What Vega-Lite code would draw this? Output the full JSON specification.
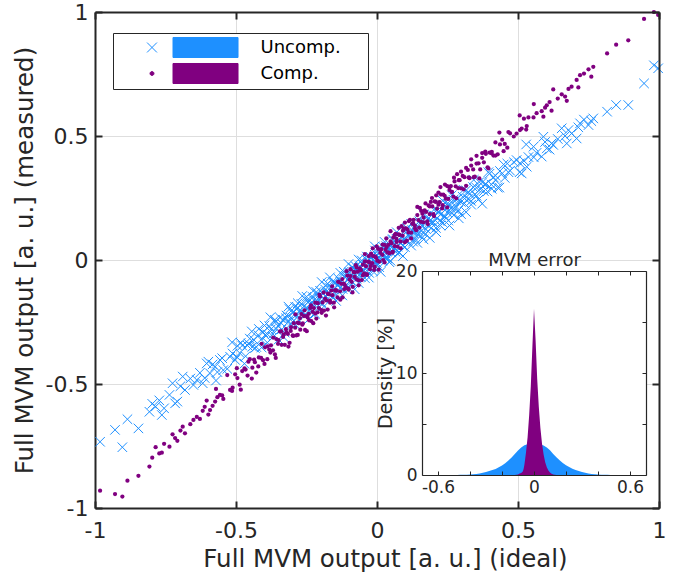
{
  "$schema": "https://vega.github.io/schema/vega-lite/v6.json",
  "width": 564,
  "height": 496,
  "autosize": {"type": "none"},
  "padding": {"left": 95, "top": 12, "right": 23, "bottom": 74},
  "datasets": {"panel": [{"panel": "MVM error"}]},
  "config": {
    "view": {"stroke": null},
    "font": "DejaVu Sans",
    "axis": {
      "labelFont": "DejaVu Sans",
      "titleFont": "DejaVu Sans",
      "labelColor": "#262626",
      "titleColor": "#262626",
      "titleFontWeight": "normal",
      "domainColor": "#262626",
      "tickColor": "#262626"
    },
    "legend": {
      "orient": "none", "legendX": 18, "legendY": 21,
      "padding": 3, "strokeColor": "#262626", "fillColor": "white",
      "symbolSize": 484, "symbolOffset": 24.5, "labelOffset": 97, "symbolOpacity": 1, "symbolStrokeWidth": 1,
      "labelFontSize": 18, "labelFont": "DejaVu Sans", "labelColor": "black", "rowPadding": 1
    }
  },
  "layer": [
    {
      "data": {"values": [
        {"x":-0.982,"u":-0.733,"c":-0.930},{"x":-0.929,"u":-0.685,"c":-0.944},{"x":-0.903,"u":-0.755,"c":-0.954},{"x":-0.885,"u":-0.642,"c":-0.890},{"x":-0.846,"u":-0.679,"c":-0.870},{"x":-0.807,"u":-0.612,"c":-0.833},{"x":-0.797,"u":-0.580,"c":-0.797},{"x":-0.785,"u":-0.591,"c":-0.755},{"x":-0.763,"u":-0.625,"c":-0.777},{"x":-0.736,"u":-0.544,"c":-0.753},{"x":-0.725,"u":-0.497,"c":-0.703},{"x":-0.708,"u":-0.571,"c":-0.729},{"x":-0.689,"u":-0.470,"c":-0.672},{"x":-0.681,"u":-0.524,"c":-0.699},{"x":-0.651,"u":-0.504,"c":-0.645},{"x":-0.639,"u":-0.484,"c":-0.633},{"x":-0.618,"u":-0.497,"c":-0.608},{"x":-0.604,"u":-0.417,"c":-0.567},{"x":-0.592,"u":-0.457,"c":-0.605},{"x":-0.574,"u":-0.430,"c":-0.571},{"x":-0.557,"u":-0.403,"c":-0.544},{"x":-0.545,"u":-0.444,"c":-0.560},{"x":-0.521,"u":-0.390,"c":-0.524},
        {"x":-0.772,"u":-0.566,"c":-0.780},{"x":-0.755,"u":-0.598,"c":-0.741},{"x":-0.716,"u":-0.578,"c":-0.718},{"x":-0.697,"u":-0.509,"c":-0.688},{"x":-0.662,"u":-0.478,"c":-0.662},{"x":-0.628,"u":-0.455,"c":-0.641},{"x":-0.611,"u":-0.476,"c":-0.592},{"x":-0.583,"u":-0.421,"c":-0.588},{"x":-0.566,"u":-0.452,"c":-0.553},
        {"x":-0.512,"u":-0.377,"c":-0.515},{"x":-0.503,"u":-0.403,"c":-0.461},{"x":-0.495,"u":-0.346,"c":-0.476},{"x":-0.487,"u":-0.375,"c":-0.503},{"x":-0.478,"u":-0.345,"c":-0.448},{"x":-0.466,"u":-0.388,"c":-0.442},{"x":-0.459,"u":-0.345,"c":-0.466},{"x":-0.451,"u":-0.317,"c":-0.400},{"x":-0.442,"u":-0.350,"c":-0.434},{"x":-0.436,"u":-0.323,"c":-0.402},{"x":-0.428,"u":-0.351,"c":-0.454},{"x":-0.419,"u":-0.278,"c":-0.393},{"x":-0.411,"u":-0.321,"c":-0.395},{"x":-0.404,"u":-0.291,"c":-0.404},{"x":-0.397,"u":-0.303,"c":-0.352},{"x":-0.389,"u":-0.333,"c":-0.400},{"x":-0.382,"u":-0.267,"c":-0.361},{"x":-0.376,"u":-0.279,"c":-0.344},{"x":-0.369,"u":-0.298,"c":-0.364},{"x":-0.362,"u":-0.241,"c":-0.381},{"x":-0.357,"u":-0.278,"c":-0.319},{"x":-0.351,"u":-0.265,"c":-0.338},{"x":-0.344,"u":-0.232,"c":-0.288},{"x":-0.338,"u":-0.280,"c":-0.342},{"x":-0.333,"u":-0.241,"c":-0.310},{"x":-0.327,"u":-0.293,"c":-0.342},{"x":-0.321,"u":-0.224,"c":-0.292},{"x":-0.316,"u":-0.251,"c":-0.298},{"x":-0.310,"u":-0.198,"c":-0.334},{"x":-0.305,"u":-0.233,"c":-0.271},
        {"x":-0.299,"u":-0.214,"c":-0.304},{"x":-0.295,"u":-0.244,"c":-0.255},{"x":-0.290,"u":-0.189,"c":-0.273},{"x":-0.286,"u":-0.221,"c":-0.304},{"x":-0.281,"u":-0.194,"c":-0.253},{"x":-0.277,"u":-0.243,"c":-0.255},{"x":-0.272,"u":-0.202,"c":-0.281},{"x":-0.268,"u":-0.177,"c":-0.218},{"x":-0.263,"u":-0.213,"c":-0.256},{"x":-0.259,"u":-0.187,"c":-0.226},{"x":-0.255,"u":-0.219,"c":-0.282},{"x":-0.250,"u":-0.148,"c":-0.226},{"x":-0.246,"u":-0.195,"c":-0.232},{"x":-0.241,"u":-0.166,"c":-0.243},{"x":-0.237,"u":-0.180,"c":-0.194},{"x":-0.233,"u":-0.213,"c":-0.246},{"x":-0.228,"u":-0.149,"c":-0.209},{"x":-0.224,"u":-0.162,"c":-0.194},{"x":-0.219,"u":-0.184,"c":-0.216},{"x":-0.215,"u":-0.129,"c":-0.236},{"x":-0.210,"u":-0.166,"c":-0.174},{"x":-0.206,"u":-0.154,"c":-0.194},{"x":-0.202,"u":-0.124,"c":-0.147},{"x":-0.197,"u":-0.172,"c":-0.202},{"x":-0.193,"u":-0.134,"c":-0.171},{"x":-0.188,"u":-0.187,"c":-0.204},{"x":-0.184,"u":-0.119,"c":-0.156},{"x":-0.180,"u":-0.147,"c":-0.163},{"x":-0.175,"u":-0.095,"c":-0.200},{"x":-0.171,"u":-0.131,"c":-0.138},{"x":-0.166,"u":-0.112,"c":-0.172},{"x":-0.162,"u":-0.142,"c":-0.123},{"x":-0.158,"u":-0.088,"c":-0.142},{"x":-0.153,"u":-0.119,"c":-0.172},{"x":-0.149,"u":-0.093,"c":-0.122},{"x":-0.144,"u":-0.141,"c":-0.124},{"x":-0.140,"u":-0.101,"c":-0.151},{"x":-0.136,"u":-0.076,"c":-0.088},{"x":-0.131,"u":-0.112,"c":-0.126},{"x":-0.127,"u":-0.086,"c":-0.096},{"x":-0.122,"u":-0.117,"c":-0.151},{"x":-0.118,"u":-0.047,"c":-0.095},{"x":-0.114,"u":-0.094,"c":-0.101},{"x":-0.109,"u":-0.065,"c":-0.112},{"x":-0.105,"u":-0.079,"c":-0.063},
        {"x":-0.101,"u":-0.112,"c":-0.115},{"x":-0.097,"u":-0.049,"c":-0.079},{"x":-0.094,"u":-0.063,"c":-0.065},{"x":-0.090,"u":-0.085,"c":-0.088},{"x":-0.086,"u":-0.030,"c":-0.108},{"x":-0.083,"u":-0.069,"c":-0.048},{"x":-0.079,"u":-0.056,"c":-0.068},{"x":-0.075,"u":-0.026,"c":-0.021},{"x":-0.072,"u":-0.076,"c":-0.078},{"x":-0.068,"u":-0.038,"c":-0.047},{"x":-0.065,"u":-0.093,"c":-0.082},{"x":-0.061,"u":-0.025,"c":-0.034},{"x":-0.057,"u":-0.053,"c":-0.041},{"x":-0.054,"u":-0.002,"c":-0.081},{"x":-0.050,"u":-0.038,"c":-0.019},{"x":-0.046,"u":-0.020,"c":-0.054},{"x":-0.043,"u":-0.051,"c":-0.006},{"x":-0.039,"u":0.003,"c":-0.025},{"x":-0.036,"u":-0.030,"c":-0.057},{"x":-0.032,"u":-0.004,"c":-0.007},{"x":-0.028,"u":-0.052,"c":-0.009},{"x":-0.025,"u":-0.013,"c":-0.037},{"x":-0.021,"u":0.012,"c":0.026},{"x":-0.017,"u":-0.025,"c":-0.013},{"x":-0.014,"u":0.000,"c":0.016},{"x":-0.010,"u":-0.032,"c":-0.040},{"x":-0.007,"u":0.038,"c":0.015},{"x":-0.003,"u":-0.009,"c":0.009},{"x":0.001,"u":0.019,"c":-0.003},{"x":0.004,"u":0.004,"c":0.045},{"x":0.008,"u":-0.029,"c":-0.007},{"x":0.012,"u":0.034,"c":0.029},{"x":0.015,"u":0.021,"c":0.044},{"x":0.019,"u":-0.002,"c":0.021},{"x":0.022,"u":0.053,"c":0.000},{"x":0.026,"u":0.015,"c":0.061},{"x":0.030,"u":0.027,"c":0.041},{"x":0.033,"u":0.056,"c":0.087},{"x":0.037,"u":0.007,"c":0.031},{"x":0.040,"u":0.045,"c":0.061},{"x":0.044,"u":-0.009,"c":0.027},{"x":0.048,"u":0.059,"c":0.075},{"x":0.051,"u":0.030,"c":0.068},{"x":0.055,"u":0.081,"c":0.030},{"x":0.058,"u":0.044,"c":0.091},{"x":0.062,"u":0.062,"c":0.056},{"x":0.066,"u":0.033,"c":0.105},{"x":0.069,"u":0.086,"c":0.085},{"x":0.073,"u":0.054,"c":0.054},{"x":0.076,"u":0.079,"c":0.103},{"x":0.080,"u":0.030,"c":0.101},{"x":0.084,"u":0.070,"c":0.075},{"x":0.087,"u":0.095,"c":0.137},{"x":0.091,"u":0.058,"c":0.098},{"x":0.095,"u":0.084,"c":0.128},
        {"x":0.099,"u":0.052,"c":0.072},{"x":0.103,"u":0.122,"c":0.128},{"x":0.108,"u":0.076,"c":0.123},{"x":0.112,"u":0.104,"c":0.111},{"x":0.117,"u":0.091,"c":0.162},{"x":0.121,"u":0.058,"c":0.110},{"x":0.125,"u":0.121,"c":0.146},{"x":0.130,"u":0.109,"c":0.162},{"x":0.134,"u":0.087,"c":0.139},{"x":0.139,"u":0.142,"c":0.120},{"x":0.143,"u":0.104,"c":0.181},{"x":0.147,"u":0.117,"c":0.161},{"x":0.152,"u":0.147,"c":0.210},{"x":0.156,"u":0.098,"c":0.154},{"x":0.161,"u":0.137,"c":0.186},{"x":0.165,"u":0.083,"c":0.152},{"x":0.169,"u":0.151,"c":0.200},{"x":0.174,"u":0.124,"c":0.194},{"x":0.178,"u":0.175,"c":0.156},{"x":0.183,"u":0.140,"c":0.220},{"x":0.187,"u":0.158,"c":0.185},{"x":0.191,"u":0.128,"c":0.234},{"x":0.196,"u":0.183,"c":0.216},{"x":0.200,"u":0.151,"c":0.185},{"x":0.205,"u":0.178,"c":0.236},{"x":0.209,"u":0.129,"c":0.234},{"x":0.213,"u":0.169,"c":0.207},{"x":0.218,"u":0.195,"c":0.272},{"x":0.222,"u":0.158,"c":0.233},{"x":0.227,"u":0.185,"c":0.264},{"x":0.231,"u":0.153,"c":0.208},{"x":0.235,"u":0.223,"c":0.264},{"x":0.240,"u":0.177,"c":0.259},{"x":0.244,"u":0.205,"c":0.247},{"x":0.249,"u":0.192,"c":0.298},{"x":0.253,"u":0.159,"c":0.246},{"x":0.257,"u":0.222,"c":0.282},{"x":0.262,"u":0.209,"c":0.298},{"x":0.266,"u":0.188,"c":0.275},{"x":0.271,"u":0.243,"c":0.256},{"x":0.275,"u":0.205,"c":0.317},{"x":0.279,"u":0.217,"c":0.297},{"x":0.284,"u":0.248,"c":0.346},{"x":0.288,"u":0.199,"c":0.290},{"x":0.293,"u":0.238,"c":0.322},
        {"x":0.298,"u":0.185,"c":0.289},{"x":0.304,"u":0.255,"c":0.339},{"x":0.310,"u":0.228,"c":0.334},{"x":0.316,"u":0.281,"c":0.299},{"x":0.322,"u":0.246,"c":0.363},{"x":0.328,"u":0.266,"c":0.330},{"x":0.334,"u":0.238,"c":0.381},{"x":0.341,"u":0.294,"c":0.365},{"x":0.347,"u":0.264,"c":0.336},{"x":0.353,"u":0.291,"c":0.389},{"x":0.360,"u":0.244,"c":0.390},{"x":0.366,"u":0.286,"c":0.365},{"x":0.373,"u":0.313,"c":0.431},{"x":0.379,"u":0.278,"c":0.394},{"x":0.386,"u":0.306,"c":0.428},{"x":0.392,"u":0.276,"c":0.374},{"x":0.399,"u":0.348,"c":0.433},{"x":0.406,"u":0.304,"c":0.430},{"x":0.413,"u":0.334,"c":0.421},{"x":0.420,"u":0.322,"c":0.474},{"x":0.428,"u":0.292,"c":0.426},{"x":0.436,"u":0.359,"c":0.466},{"x":0.444,"u":0.349,"c":0.485},{"x":0.453,"u":0.331,"c":0.468},{"x":0.462,"u":0.389,"c":0.453},
        {"x":-0.598,"u":-0.410,"c":-0.623},{"x":-0.571,"u":-0.486,"c":-0.520},{"x":-0.549,"u":-0.396,"c":-0.546},{"x":-0.531,"u":-0.439,"c":-0.464},{"x":-0.514,"u":-0.332,"c":-0.528},{"x":-0.497,"u":-0.391,"c":-0.436},{"x":-0.483,"u":-0.334,"c":-0.523},{"x":-0.470,"u":-0.418,"c":-0.437},{"x":-0.456,"u":-0.337,"c":-0.410},{"x":-0.444,"u":-0.288,"c":-0.478},{"x":-0.433,"u":-0.355,"c":-0.412},{"x":-0.421,"u":-0.303,"c":-0.429},{"x":-0.409,"u":-0.353,"c":-0.338},{"x":-0.399,"u":-0.264,"c":-0.419},{"x":-0.388,"u":-0.300,"c":-0.348},{"x":-0.378,"u":-0.231,"c":-0.373},{"x":-0.368,"u":-0.310,"c":-0.313},{"x":-0.359,"u":-0.248,"c":-0.395},{"x":-0.349,"u":-0.321,"c":-0.323},{"x":-0.340,"u":-0.254,"c":-0.288},
        {"x":-0.331,"u":-0.311,"c":-0.300},{"x":-0.323,"u":-0.235,"c":-0.279},{"x":-0.314,"u":-0.188,"c":-0.349},{"x":-0.306,"u":-0.258,"c":-0.286},{"x":-0.297,"u":-0.208,"c":-0.306},{"x":-0.289,"u":-0.261,"c":-0.219},{"x":-0.281,"u":-0.174,"c":-0.302},{"x":-0.273,"u":-0.212,"c":-0.234},{"x":-0.265,"u":-0.145,"c":-0.261},{"x":-0.257,"u":-0.225,"c":-0.203},{"x":-0.249,"u":-0.164,"c":-0.287},{"x":-0.242,"u":-0.239,"c":-0.217},{"x":-0.234,"u":-0.173,"c":-0.183},{"x":-0.226,"u":-0.125,"c":-0.255},{"x":-0.219,"u":-0.217,"c":-0.172},{"x":-0.211,"u":-0.137,"c":-0.211},{"x":-0.204,"u":-0.189,"c":-0.140},{"x":-0.196,"u":-0.089,"c":-0.213},{"x":-0.189,"u":-0.156,"c":-0.131},{"x":-0.181,"u":-0.103,"c":-0.224},
        {"x":-0.174,"u":-0.136,"c":-0.136},{"x":-0.167,"u":-0.070,"c":-0.164},{"x":-0.159,"u":-0.150,"c":-0.106},{"x":-0.152,"u":-0.089,"c":-0.191},{"x":-0.145,"u":-0.165,"c":-0.121},{"x":-0.138,"u":-0.100,"c":-0.088},{"x":-0.130,"u":-0.052,"c":-0.160},{"x":-0.123,"u":-0.143,"c":-0.077},{"x":-0.116,"u":-0.065,"c":-0.117},{"x":-0.108,"u":-0.116,"c":-0.045},{"x":-0.101,"u":-0.016,"c":-0.119},{"x":-0.094,"u":-0.083,"c":-0.037},{"x":-0.087,"u":-0.031,"c":-0.131},{"x":-0.079,"u":-0.118,"c":-0.050},{"x":-0.072,"u":-0.043,"c":-0.030},{"x":-0.065,"u":0.002,"c":-0.102},{"x":-0.058,"u":-0.068,"c":-0.040},{"x":-0.050,"u":-0.019,"c":-0.062},{"x":-0.043,"u":-0.073,"c":0.024},{"x":-0.036,"u":0.014,"c":-0.060},
        {"x":-0.029,"u":-0.071,"c":0.016},{"x":-0.022,"u":0.007,"c":-0.024},{"x":-0.015,"u":-0.045,"c":0.047},{"x":-0.008,"u":0.055,"c":-0.027},{"x":-0.001,"u":-0.012,"c":0.055},{"x":0.006,"u":0.041,"c":-0.039},{"x":0.013,"u":-0.048,"c":0.041},{"x":0.020,"u":0.027,"c":0.062},{"x":0.027,"u":0.073,"c":-0.010},{"x":0.034,"u":0.002,"c":0.052},{"x":0.041,"u":0.050,"c":0.030},{"x":0.048,"u":-0.003,"c":0.116},{"x":0.056,"u":0.084,"c":0.034},{"x":0.063,"u":0.045,"c":0.101},{"x":0.070,"u":0.112,"c":0.073},{"x":0.077,"u":0.031,"c":0.130},{"x":0.084,"u":0.091,"c":0.047},{"x":0.092,"u":0.016,"c":0.118},{"x":0.099,"u":0.082,"c":0.151},{"x":0.106,"u":0.129,"c":0.078},
        {"x":0.113,"u":0.098,"c":0.157},{"x":0.121,"u":0.145,"c":0.087},{"x":0.128,"u":0.074,"c":0.149},{"x":0.135,"u":0.122,"c":0.127},{"x":0.143,"u":0.069,"c":0.214},{"x":0.150,"u":0.156,"c":0.131},{"x":0.157,"u":0.117,"c":0.198},{"x":0.165,"u":0.184,"c":0.171},{"x":0.172,"u":0.104,"c":0.228},{"x":0.180,"u":0.165,"c":0.145},{"x":0.187,"u":0.089,"c":0.216},{"x":0.195,"u":0.155,"c":0.250},{"x":0.202,"u":0.203,"c":0.177},{"x":0.210,"u":0.112,"c":0.261},{"x":0.218,"u":0.191,"c":0.223},{"x":0.225,"u":0.139,"c":0.294},{"x":0.233,"u":0.239,"c":0.221},{"x":0.241,"u":0.173,"c":0.304},{"x":0.249,"u":0.227,"c":0.212},{"x":0.257,"u":0.139,"c":0.293},
        {"x":0.265,"u":0.261,"c":0.274},{"x":0.273,"u":0.181,"c":0.332},{"x":0.281,"u":0.242,"c":0.249},{"x":0.290,"u":0.168,"c":0.322},{"x":0.298,"u":0.234,"c":0.356},{"x":0.307,"u":0.283,"c":0.285},{"x":0.316,"u":0.193,"c":0.371},{"x":0.325,"u":0.273,"c":0.333},{"x":0.334,"u":0.223,"c":0.406},{"x":0.343,"u":0.323,"c":0.334},{"x":0.353,"u":0.259,"c":0.420},{"x":0.363,"u":0.314,"c":0.329},{"x":0.373,"u":0.227,"c":0.412},{"x":0.384,"u":0.306,"c":0.437},{"x":0.395,"u":0.354,"c":0.369},{"x":0.407,"u":0.287,"c":0.436},{"x":0.420,"u":0.340,"c":0.421},{"x":0.434,"u":0.292,"c":0.514},{"x":0.449,"u":0.385,"c":0.439},{"x":0.466,"u":0.354,"c":0.516},
        {"x":0.485,"u":0.395,"c":0.498},{"x":0.506,"u":0.354,"c":0.583},{"x":0.529,"u":0.466,"c":0.526},{"x":0.556,"u":0.414,"c":0.629},
        {"x":0.566,"u":0.432,"c":0.592},{"x":0.596,"u":0.476,"c":0.614},{"x":0.612,"u":0.445,"c":0.637},{"x":0.641,"u":0.488,"c":0.651},{"x":0.734,"u":0.566,"c":0.752},{"x":0.816,"u":0.598,"c":0.833},
        {"x":0.472,"u":0.360,"c":0.511},{"x":0.495,"u":0.403,"c":0.510},{"x":0.507,"u":0.390,"c":0.524},{"x":0.513,"u":0.349,"c":0.530},{"x":0.521,"u":0.400,"c":0.570},{"x":0.531,"u":0.376,"c":0.540},{"x":0.537,"u":0.415,"c":0.575},{"x":0.555,"u":0.457,"c":0.575},{"x":0.584,"u":0.417,"c":0.600},{"x":0.590,"u":0.497,"c":0.578},{"x":0.602,"u":0.450,"c":0.624},{"x":0.619,"u":0.470,"c":0.602},{"x":0.625,"u":0.464,"c":0.688},{"x":0.655,"u":0.531,"c":0.668},{"x":0.667,"u":0.500,"c":0.659},{"x":0.673,"u":0.470,"c":0.642},{"x":0.679,"u":0.524,"c":0.690},{"x":0.690,"u":0.510,"c":0.699},{"x":0.708,"u":0.490,"c":0.726},{"x":0.714,"u":0.535,"c":0.696},{"x":0.720,"u":0.551,"c":0.745},{"x":0.750,"u":0.544,"c":0.769},{"x":0.760,"u":0.560,"c":0.739},{"x":0.767,"u":0.571,"c":0.779},{"x":0.848,"u":0.625,"c":0.868},{"x":0.891,"u":0.625,"c":0.886},{"x":0.947,"u":0.712,"c":0.972},{"x":0.982,"u":0.785,"c":1.000},{"x":0.997,"u":0.773,"c":0.988}
      ]},
      "layer": [
        {
          "mark": {"type": "point", "shape": "M-1,-1L1,1M-1,1L1,-1", "filled": false, "size": 90, "strokeWidth": 1, "opacity": 1},
          "encoding": {
            "x": {"field": "x", "type": "quantitative",
              "scale": {"domain": [-1, 1], "nice": false, "zero": false},
              "axis": {"orient": "bottom", "values": [-1, -0.5, 0, 0.5, 1], "labelExpr": "'' + datum.value", "labelFontSize": 22, "labelFlush": false, "labelPadding": 19, "tickSize": -7, "tickWidth": 2, "domainWidth": 2, "grid": true, "gridColor": "#dedede", "gridWidth": 1, "title": "Full MVM output [a. u.] (ideal)", "titleFontSize": 24.5, "titlePadding": 6, "titleX": 290, "zindex": 0}},
            "y": {"field": "u", "type": "quantitative",
              "scale": {"domain": [-1, 1], "nice": false, "zero": false},
              "axis": {"orient": "left", "values": [-1, -0.5, 0, 0.5, 1], "labelExpr": "'' + datum.value", "labelFontSize": 22, "labelPadding": 14, "tickSize": -7, "tickWidth": 2, "domainWidth": 2, "grid": true, "gridColor": "#dedede", "gridWidth": 1, "title": "Full MVM output [a. u.] (measured)", "titleFontSize": 24.5, "titlePadding": 8, "zindex": 0}},
            "color": {"datum": "Uncomp.", "type": "nominal",
              "scale": {"domain": ["Uncomp.", "Comp."], "range": ["#1E90FF", "#800080"]},
              "legend": {"title": null}}
          }
        },
        {
          "mark": {"type": "circle", "size": 18, "opacity": 1},
          "encoding": {
            "x": {"field": "x", "type": "quantitative",
              "axis": {"orient": "top", "values": [-1, -0.5, 0, 0.5, 1], "labels": false, "tickSize": -7, "tickWidth": 2, "domainWidth": 2, "grid": false, "title": null, "zindex": 1}},
            "y": {"field": "c", "type": "quantitative",
              "axis": {"orient": "right", "values": [-1, -0.5, 0, 0.5, 1], "labels": false, "tickSize": -7, "tickWidth": 2, "domainWidth": 2, "grid": false, "title": null, "zindex": 1}},
            "color": {"datum": "Comp.", "type": "nominal"}
          }
        }
      ],
      "resolve": {"axis": {"x": "independent", "y": "independent"}}
    },
    {
      "layer": [
        {
          "data": {"name": "panel"},
          "mark": {"type": "rect", "fill": "white", "stroke": null},
          "encoding": {
            "x": {"datum": -0.7, "type": "quantitative",
              "scale": {"domain": [-0.7, 0.7], "range": [327, 551], "nice": false, "zero": false},
              "axis": {"orient": "bottom", "offset": -33, "values": [-0.6, -0.4, -0.2, 0, 0.2, 0.4, 0.6], "labelExpr": "abs(datum.value) < 0.01 || abs(datum.value) > 0.5 ? '' + datum.value : ''", "labelFontSize": 17, "labelFlush": false, "labelOverlap": false, "labelPadding": 8, "tickSize": -4, "tickWidth": 1, "domainWidth": 1.2, "grid": false, "title": null, "zindex": 2}},
            "x2": {"datum": 0.7},
            "y": {"datum": 0, "type": "quantitative",
              "scale": {"domain": [0, 20], "range": [463, 259], "nice": false, "zero": false},
              "axis": {"orient": "left", "offset": -327, "values": [0, 5, 10, 15, 20], "labelExpr": "datum.value % 10 == 0 ? '' + datum.value : ''", "labelFontSize": 17, "labelOverlap": false, "labelPadding": 9, "tickSize": -4, "tickWidth": 1, "domainWidth": 1.2, "grid": false, "title": "Density [%]", "titleFontSize": 19, "titlePadding": 0, "zindex": 2}},
            "y2": {"datum": 20}
          }
        },
        {
          "data": {"values": [
            {"e":-0.50,"d":0.0},{"e":-0.48,"d":0.01},{"e":-0.46,"d":0.02},{"e":-0.44,"d":0.025},{"e":-0.42,"d":0.035},{"e":-0.40,"d":0.05},{"e":-0.38,"d":0.07},{"e":-0.36,"d":0.10},{"e":-0.34,"d":0.15},{"e":-0.32,"d":0.22},{"e":-0.30,"d":0.30},{"e":-0.28,"d":0.38},{"e":-0.26,"d":0.48},{"e":-0.24,"d":0.60},{"e":-0.22,"d":0.76},{"e":-0.20,"d":0.93},{"e":-0.18,"d":1.15},{"e":-0.16,"d":1.43},{"e":-0.14,"d":1.72},{"e":-0.12,"d":2.05},{"e":-0.10,"d":2.40},{"e":-0.08,"d":2.70},{"e":-0.06,"d":2.92},{"e":-0.04,"d":3.02},{"e":-0.02,"d":3.06},{"e":0.0,"d":3.08},{"e":0.02,"d":3.05},{"e":0.04,"d":3.0},{"e":0.06,"d":2.9},{"e":0.08,"d":2.7},{"e":0.10,"d":2.42},{"e":0.12,"d":2.07},{"e":0.14,"d":1.74},{"e":0.16,"d":1.45},{"e":0.18,"d":1.17},{"e":0.20,"d":0.95},{"e":0.22,"d":0.78},{"e":0.24,"d":0.61},{"e":0.26,"d":0.49},{"e":0.28,"d":0.39},{"e":0.30,"d":0.30},{"e":0.32,"d":0.22},{"e":0.34,"d":0.15},{"e":0.36,"d":0.10},{"e":0.38,"d":0.07},{"e":0.40,"d":0.05},{"e":0.42,"d":0.035},{"e":0.44,"d":0.025},{"e":0.46,"d":0.02},{"e":0.48,"d":0.01},{"e":0.50,"d":0.0}
          ]},
          "mark": {"type": "area", "opacity": 1, "interpolate": "linear"},
          "encoding": {
            "x": {"field": "e", "type": "quantitative",
              "axis": {"orient": "top", "offset": -259, "values": [-0.6, -0.4, -0.2, 0, 0.2, 0.4, 0.6], "labels": false, "tickSize": -4, "tickWidth": 1, "domainWidth": 1.2, "grid": false, "title": "MVM error", "titleFontSize": 18, "titlePadding": 1, "zindex": 2}},
            "y": {"field": "d", "type": "quantitative",
              "axis": {"orient": "right", "offset": -13, "values": [0, 5, 10, 15, 20], "labels": false, "tickSize": -4, "tickWidth": 1, "domainWidth": 1.2, "grid": false, "title": null, "zindex": 2}},
            "color": {"datum": "Uncomp.", "type": "nominal"}
          }
        },
        {
          "data": {"values": [
            {"e":-0.12,"d":0.0},{"e":-0.10,"d":0.05},{"e":-0.09,"d":0.15},{"e":-0.08,"d":0.2},{"e":-0.07,"d":0.35},{"e":-0.065,"d":0.6},{"e":-0.06,"d":1.0},{"e":-0.05,"d":2.2},{"e":-0.04,"d":3.7},{"e":-0.03,"d":5.9},{"e":-0.02,"d":8.7},{"e":-0.01,"d":12.6},{"e":0.0,"d":16.3},{"e":0.01,"d":13.2},{"e":0.02,"d":9.4},{"e":0.03,"d":6.7},{"e":0.04,"d":4.6},{"e":0.05,"d":3.1},{"e":0.06,"d":2.0},{"e":0.07,"d":1.25},{"e":0.08,"d":0.75},{"e":0.09,"d":0.45},{"e":0.10,"d":0.25},{"e":0.11,"d":0.12},{"e":0.12,"d":0.05},{"e":0.14,"d":0.0}
          ]},
          "mark": {"type": "area", "opacity": 1, "interpolate": "linear"},
          "encoding": {
            "x": {"field": "e", "type": "quantitative", "axis": null},
            "y": {"field": "d", "type": "quantitative", "axis": null},
            "color": {"datum": "Comp.", "type": "nominal"}
          }
        },
        {
          "data": {"name": "panel"},
          "mark": {"type": "point", "opacity": 0},
          "encoding": {
            "x": {"datum": 0, "type": "quantitative", "axis": null},
            "y": {"datum": 10, "type": "quantitative", "axis": null},
            "shape": {"datum": "Uncomp.", "type": "nominal",
              "scale": {"domain": ["Uncomp.", "Comp."], "range": [
                "M-0.45,-0.45L0.45,0.45M-0.45,0.45L0.45,-0.45M1.91,-0.91L7.82,-0.91L7.82,0.91L1.91,0.91ZM19.1,0L19.1,0",
                "M-0.18,0A0.18,0.18,0,1,0,0.18,0A0.18,0.18,0,1,0,-0.18,0ZM1.91,-0.91L7.82,-0.91L7.82,0.91L1.91,0.91ZM19.1,0L19.1,0"]},
              "legend": {"title": null}},
            "color": {"datum": "Uncomp.", "type": "nominal"}
          }
        }
      ],
      "resolve": {"axis": {"x": "independent", "y": "independent"}}
    }
  ],
  "resolve": {"scale": {"x": "independent", "y": "independent"}}
}
